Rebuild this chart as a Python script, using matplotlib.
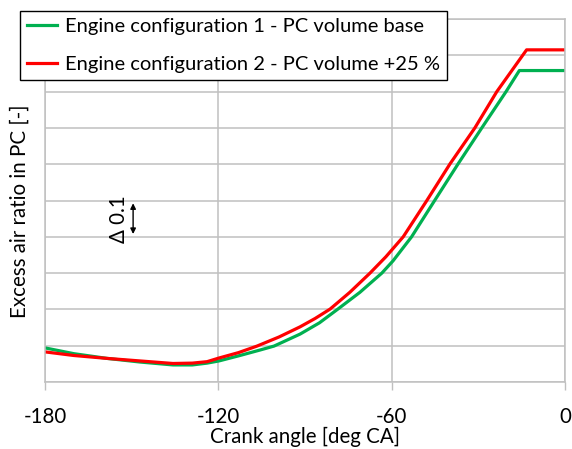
import numpy as np
import matplotlib.pyplot as plt

plt.rcParams['font.family'] = ['Lato', 'DejaVu Sans']
plt.rcParams['axes.unicode_minus'] = False

# crank angle [deg CA] and excess air ratio
ca_base = [-180, -170, -158.5, -147.1, -135.7, -129, -123.9, -119.8, -113, -105.6,
           -100.7, -91.7, -85, -78.6, -71, -63.4, -59.5, -53.1, -45.2, -37.0,
           -28.8, -20.4, -15.8, 0]
lam_base = [1.094, 1.078, 1.065, 1.055, 1.047, 1.047, 1.052, 1.058, 1.072, 1.088,
            1.099, 1.132, 1.163, 1.201, 1.247, 1.300, 1.334, 1.400, 1.499, 1.601,
            1.700, 1.800, 1.858, 1.858]

ca_plus = [-180, -170, -158.5, -147.1, -135.7, -129, -123.9, -119.8, -113, -106.6,
           -99, -91.7, -86.5, -81.3, -74.5, -67.5, -62.0, -56.0, -47.9, -39.8,
           -31.2, -23.6, -13.3, 0]
lam_plus = [1.083, 1.073, 1.065, 1.058, 1.051, 1.052, 1.056, 1.066, 1.081, 1.099,
            1.124, 1.152, 1.175, 1.201, 1.247, 1.300, 1.345, 1.400, 1.499, 1.601,
            1.700, 1.800, 1.915, 1.915]

labels = ['Engine configuration 1 - PC volume base',
          'Engine configuration 2 - PC volume +25 %']

fig = plt.figure(figsize=(5.72, 4.49), dpi=100)
ax = fig.add_axes([45/572, 1 - 382/449, 520/572, 363/449])

ax.plot(ca_base, lam_base, color='#00B050', lw=2.3, label=labels[0])
ax.plot(ca_plus, lam_plus, color='#FF0000', lw=2.3, label=labels[1])

ax.set_xlim(-180, 0)
ax.set_ylim(1.0, 2.0)
ax.set_xticks([-180, -120, -60, 0])
ax.set_yticks(np.arange(1.0, 2.01, 0.1))
ax.tick_params(axis='y', length=0, labelleft=False)
ax.tick_params(axis='x', length=6, width=1, color='#bfbfbf', labelsize=14.8, pad=12)
ax.grid(True, color='#c0c0c0', lw=1.1)
for s in ax.spines.values():
    s.set_color('#c0c0c0')
    s.set_linewidth(1.1)

ax.set_xlabel('Crank angle [deg CA]', fontsize=14.8, labelpad=0)
ax.set_ylabel('Excess air ratio in PC [-]', fontsize=14.8)
ax.yaxis.set_label_coords(-15/520, (382 - 211)/363)

# delta marker
ax.annotate('', xy=(-149.5, 1.5), xytext=(-149.5, 1.4),
            arrowprops=dict(arrowstyle='<|-|>', color='black', lw=1, mutation_scale=8))
ax.text(-154.5, 1.45, 'Δ 0.1', rotation=90, fontsize=14.8, ha='center', va='center')

leg = ax.legend(loc='upper left', bbox_to_anchor=(20/572, 1 - 11/449),
                bbox_transform=fig.transFigure, fontsize=14.5, frameon=True,
                fancybox=False, framealpha=1, edgecolor='black',
                handlelength=1.5, handletextpad=0.4, borderpad=0.35, labelspacing=1.05,
                borderaxespad=0)
leg.get_frame().set_linewidth(1)

fig.savefig('out.png', dpi=100)
